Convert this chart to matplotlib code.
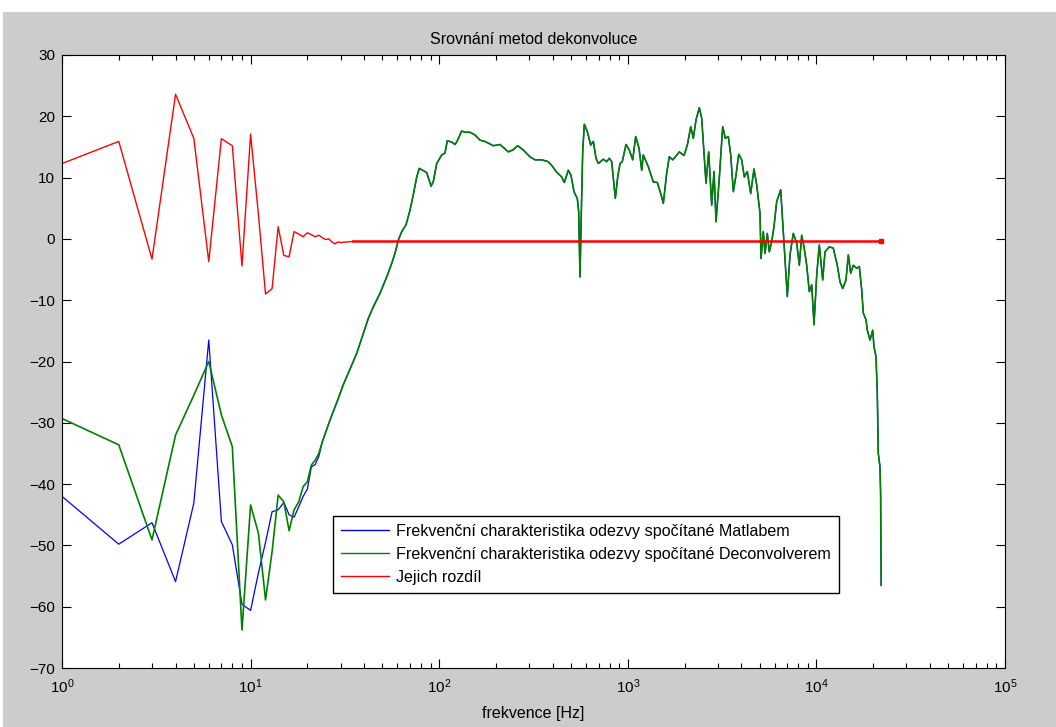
import matplotlib
matplotlib.use("Agg")
import matplotlib.pyplot as plt
from matplotlib.patches import Rectangle

# ---------------- data ----------------
low_f = list(range(1, 24))  # 1 .. 23 Hz

blue_low_db = [-42.0, -49.8, -46.3, -55.9, -43.1, -16.5, -46.1, -49.9, -59.6, -60.6,
               -54.5, -49.5, -44.5, -44.2, -43.0, -45.0, -45.4, -43.7, -42.0, -40.8,
               -37.2, -36.8, -35.5]

green_low_db = [-29.3, -33.6, -49.1, -32.0, -25.5, -20.0, -28.7, -33.9, -63.8, -43.4,
                -48.0, -58.9, -51.0, -41.8, -42.9, -47.6, -44.2, -42.9, -40.4, -39.6,
                -36.9, -36.1, -35.0]

# common part of both responses above ~24 Hz (the curves coincide)
upper_f = [24, 26.4, 29.2, 31.0, 36.5, 42.1, 44.7, 48.5, 52.7, 56.0, 58.3, 60.7, 63.3,
           66.7, 70.0, 72.9, 76.0, 78.4, 81.7, 85.9, 90.5, 93.0, 97.0, 103.1, 107.3,
           110.4, 116.5, 121.3, 124.7, 131.6, 137.0, 145.7, 154.8, 164.6, 174.9, 193.6,
           210.1, 232.5, 245.3, 260.8, 279.2, 302.9, 322.1, 349.6, 378.8, 399.6, 416.1,
           446.1, 460.5, 483.6, 499.7, 518.4, 539.7, 549.1, 557.9, 566.9, 576.6, 588.0,
           610.0, 635.8, 656.4, 678.4, 697.8, 741.6, 773.0, 797.9, 821.6, 858.6, 884.1,
           909.3, 935.1, 978.3, 1018, 1062, 1101, 1147, 1185, 1208, 1284, 1365, 1434,
           1494, 1543, 1608, 1660, 1730, 1801, 1876, 1986, 2068, 2156, 2225, 2299, 2394,
           2465, 2598, 2685, 2785, 2865, 2936, 3056, 3185, 3289, 3412, 3513, 3627, 3748,
           3873, 4017, 4147, 4301, 4483, 4668, 4825, 5023, 5085, 5230, 5339, 5491, 5627,
           5794, 5959, 6158, 6467, 6676, 7010, 7245, 7543, 7863, 8119, 8356, 8596, 8883,
           9171, 9444, 9712, 10037, 10361, 10800, 11107, 11706, 12289, 12904, 13336,
           13783, 14353, 14762, 15199, 15690, 16357, 16885, 17387, 17731, 18323, 18617,
           19240, 19885, 20204, 20701, 21033, 21290, 21736, 21900, 22050]

upper_db = [-33.1, -29.5, -26.0, -23.8, -18.7, -12.95, -11.1, -8.9, -6.2, -4.0, -2.35, -0.2,
            1.2, 2.3, 4.7, 7.2, 10.1, 11.5, 11.2, 10.8, 8.6, 9.3, 12.3, 13.7, 14.0, 16.0,
            15.8, 15.4, 16.0, 17.6, 17.4, 17.4, 16.95, 16.1, 15.9, 15.2, 15.4, 14.2, 14.5,
            15.2, 14.5, 13.4, 12.9, 12.9, 12.6, 11.8, 11.0, 10.1, 9.2, 11.2, 10.4, 7.7,
            6.6, 4.4, -6.2, 4.2, 14.2, 18.7, 17.5, 15.3, 15.9, 13.15, 12.3, 13.0, 12.6,
            13.15, 12.6, 6.6, 10.1, 12.3, 12.6, 15.4, 14.5, 12.9, 16.7, 14.8, 11.2, 13.7,
            11.8, 9.3, 9.2, 7.4, 5.8, 10.75, 13.4, 12.9, 13.5, 14.2, 13.6, 15.3, 18.3, 16.4,
            19.4, 21.4, 19.7, 9.1, 14.2, 5.5, 11.0, 2.8, 9.9, 18.3, 16.4, 16.7, 13.7, 7.7,
            10.4, 13.8, 12.9, 10.1, 11.0, 7.4, 11.4, 8.8, 4.2, -3.2, 1.2, -2.35, 0.9, -2.1,
            -0.45, 2.0, 6.1, 8.0, 1.2, -9.4, -2.6, 0.9, -0.7, -4.3, 0.6, -1.3, -4.3, -8.6,
            -7.5, -14.0, -5.9, -1.0, -6.7, -2.1, -1.3, -1.5, -4.3, -7.0, -8.1, -6.7, -2.6,
            -5.6, -4.3, -4.8, -4.5, -8.3, -12.1, -13.2, -14.9, -16.5, -14.9, -17.6, -19.2,
            -25.2, -35.0, -37.2, -41.5, -56.5]

red_f = list(range(1, 31)) + [35, 22050]
red_db = [12.3, 15.9, -3.3, 23.6, 16.4, -3.7, 16.35, 15.2, -4.4, 17.1,
          4.0, -9.0, -8.1, 2.0, -2.7, -2.9, 1.2, 0.8, 0.35, 1.0,
          0.7, 0.35, 0.6, 0.2, -0.1, 0.0, -0.5, -0.8, -0.5, -0.6,
          -0.4, -0.4]

title = "Srovnání metod dekonvoluce"
xlabel = "frekvence [Hz]"
legend_labels = ["Frekvenční charakteristika odezvy spočítané Matlabem",
                 "Frekvenční charakteristika odezvy spočítané Deconvolverem",
                 "Jejich rozdíl"]
yticks = list(range(-70, 31, 10))

# ---------------- figure ----------------
plt.rcParams['font.family'] = ['Liberation Sans', 'DejaVu Sans']
fig = plt.figure(figsize=(10.56, 7.27), dpi=100, facecolor="white")
bg = Rectangle((3 / 1056, 0), 1 - 3 / 1056, (727 - 12) / 727,
               transform=fig.transFigure, facecolor="#cccccc",
               edgecolor="none", zorder=-10)
fig.add_artist(bg)

ax = fig.add_axes([62 / 1056, 59 / 727, 943 / 1056, 613 / 727])
ax.set_zorder(1)
ax.set_facecolor("white")

blue_f = low_f + upper_f
blue_db = blue_low_db + upper_db
green_f = low_f + upper_f
green_db = green_low_db + upper_db

lb, = ax.semilogx(blue_f, blue_db, color=(0, 0, 1), lw=0.9)
lg, = ax.semilogx(green_f, green_db, color=(0, 0.5, 0), lw=1.2)
lr, = ax.semilogx(red_f[:31], red_db[:31], color=(1, 0, 0), lw=1.0)
ax.semilogx(red_f[30:], red_db[30:], color=(1, 0, 0), lw=1.8,
            marker='s', markersize=3, markevery=[1])

ax.set_xlim(1, 1e5)
ax.set_ylim(-70, 30)
ax.set_yticks(yticks)

narrow = ['Liberation Sans Narrow', 'Liberation Sans', 'DejaVu Sans']
ax.tick_params(which='both', direction='in', top=True, right=True, color='black')
ax.tick_params(which='major', length=6.5, width=0.8, labelsize=11, pad=5)
ax.tick_params(axis='x', which='major', pad=7)
ax.tick_params(which='minor', length=3.5, width=0.8)
for lbl in ax.get_xticklabels() + ax.get_yticklabels():
    lbl.set_family(narrow)
for s in ax.spines.values():
    s.set_linewidth(0.8)

ax.set_title(title, fontsize=11.5, family=narrow, pad=8)
ax.set_xlabel(xlabel, fontsize=11.5, family=narrow, labelpad=7)

leg = ax.legend([lb, lg, lr], legend_labels, loc='lower left',
                bbox_to_anchor=(0.2874, 0.1223), borderaxespad=0,
                fontsize=11.6, handlelength=3.0, handletextpad=0.4,
                labelspacing=0.5, borderpad=0.5, fancybox=False,
                edgecolor='black', framealpha=1)
leg.get_frame().set_linewidth(1.0)
for h in leg.get_lines():
    h.set_linewidth(1.0)

fig.savefig("out.png", dpi=100, facecolor=fig.get_facecolor())
